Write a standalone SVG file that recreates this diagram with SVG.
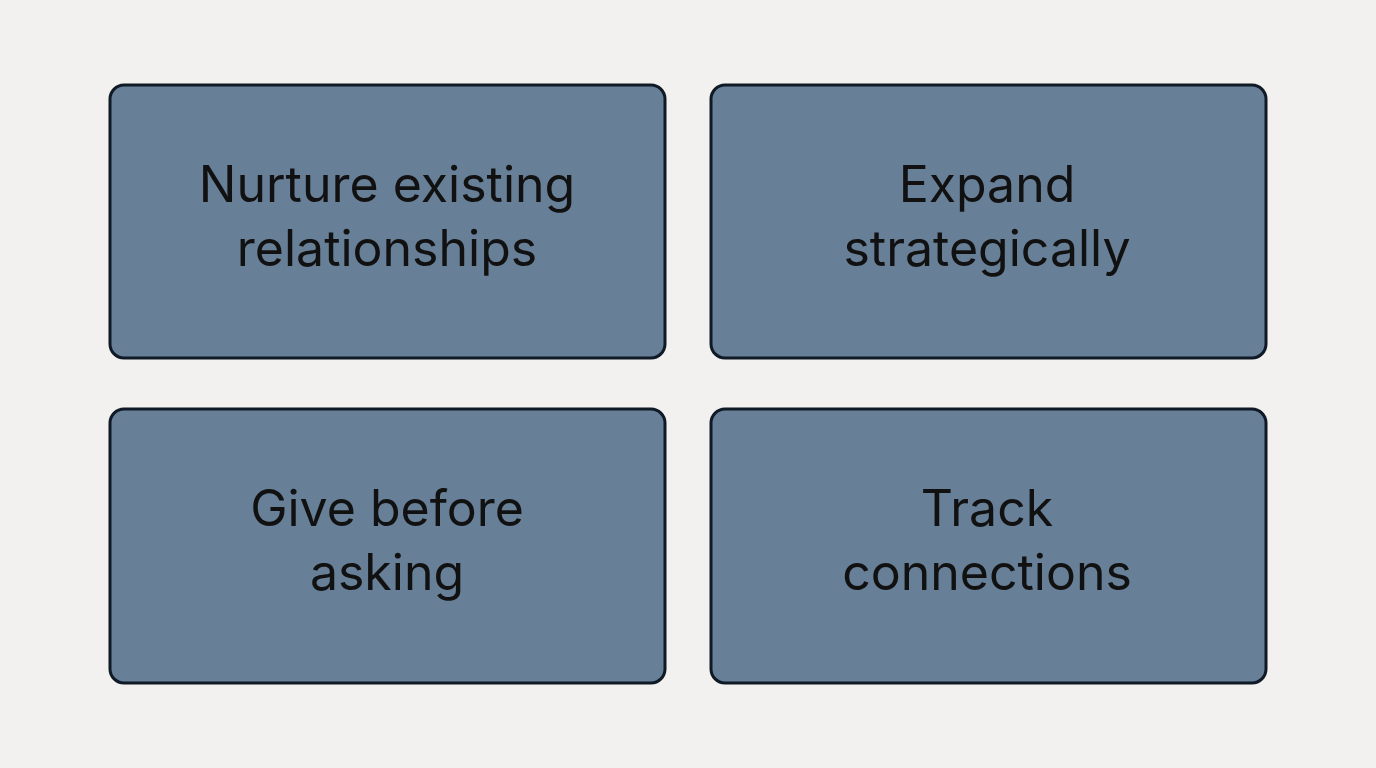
<svg xmlns="http://www.w3.org/2000/svg" width="1376" height="768" viewBox="0 0 1376 768">
<style>
.box{fill:#677f97;stroke:#0f1a26;stroke-width:3}
.t{font-family:Inter,"Liberation Sans",sans-serif;font-size:50px;fill:#111;text-anchor:middle}
</style>
<rect width="1376" height="768" fill="#f2f1ef"/>
<g id="n1"><rect class="box" x="110" y="85" width="555" height="273" rx="14"/><text class="t" x="387" y="202">Nurture existing</text><text class="t" x="387" y="266">relationships</text></g>
<g id="n2"><rect class="box" x="711" y="85" width="555" height="273" rx="14"/><text class="t" x="987" y="202">Expand</text><text class="t" x="987" y="266">strategically</text></g>
<g id="n3"><rect class="box" x="110" y="409" width="555" height="274" rx="14"/><text class="t" x="387" y="526">Give before</text><text class="t" x="387" y="590">asking</text></g>
<g id="n4"><rect class="box" x="711" y="409" width="555" height="274" rx="14"/><text class="t" x="987" y="526">Track</text><text class="t" x="987" y="590">connections</text></g>
<g id="connectors"/>
</svg>
